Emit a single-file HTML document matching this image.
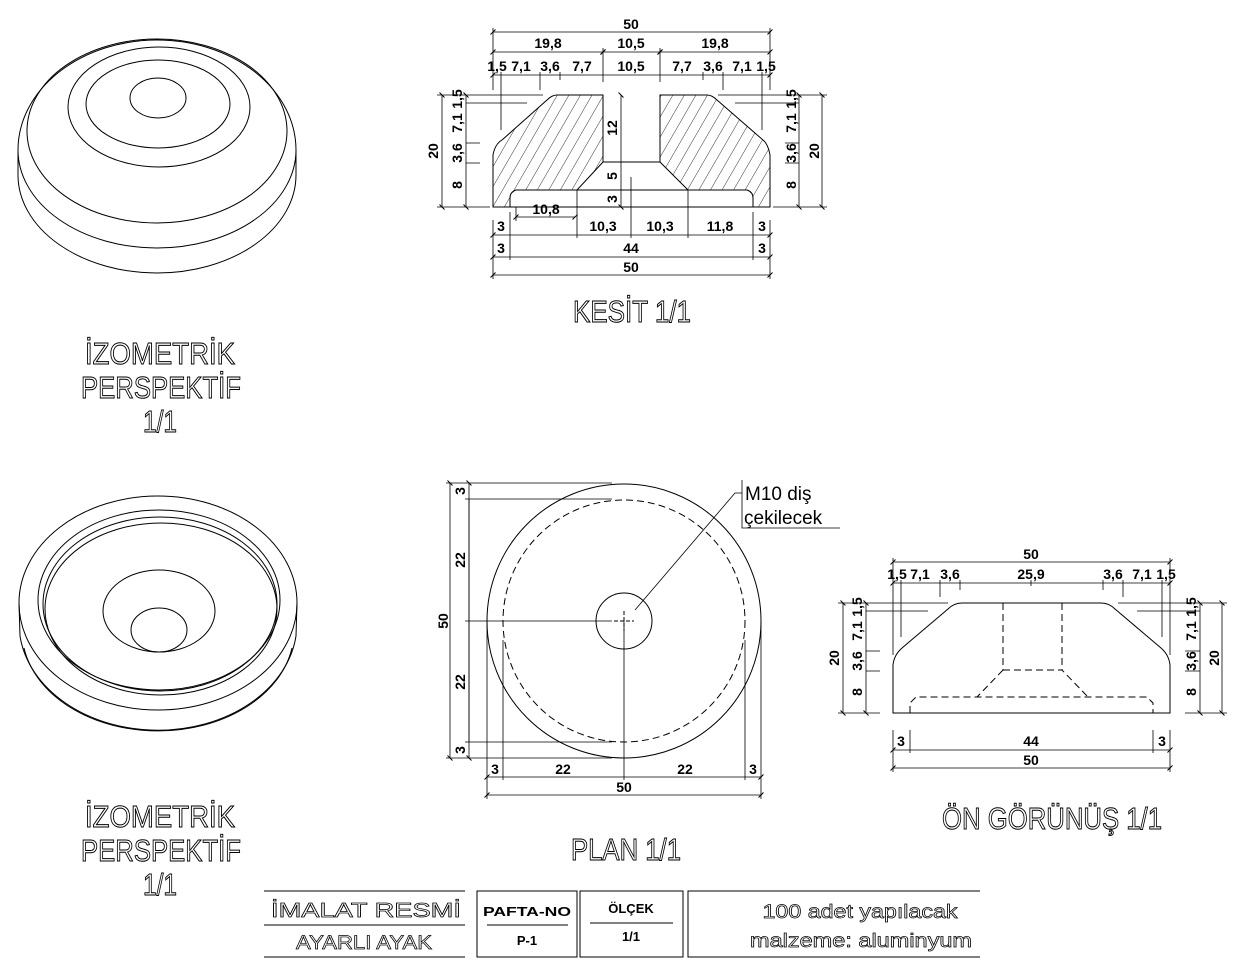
<!DOCTYPE html>
<html><head><meta charset="utf-8"><style>
html,body{margin:0;padding:0;background:#fff}
svg{display:block}
.d{font-family:"Liberation Sans Narrow","Liberation Sans",sans-serif;font-weight:bold;font-size:14px;fill:#000;text-anchor:middle}
.big{font-family:"Liberation Sans Narrow","Liberation Sans",sans-serif;font-size:31px;fill:#fff;stroke:#000;stroke-width:1;text-anchor:middle}
.tb{font-family:"Liberation Sans",sans-serif;fill:#fff;stroke:#000;stroke-width:0.7;text-anchor:middle}
.tn{font-family:"Liberation Sans",sans-serif;fill:#000;text-anchor:middle}
</style></head><body>
<svg width="1250" height="973" viewBox="0 0 1250 973" xmlns="http://www.w3.org/2000/svg">
<defs>
<marker id="t" viewBox="-4 -4 8 8" markerWidth="8" markerHeight="8" orient="auto" markerUnits="userSpaceOnUse"><path d="M-2.5,2.5 L2.5,-2.5" stroke="#000" stroke-width="1"/></marker>
<pattern id="h" width="10" height="10" patternUnits="userSpaceOnUse" patternTransform="rotate(30)"><line x1="0" y1="0" x2="0" y2="10" stroke="#000" stroke-width="0.8"/></pattern>
</defs>
<g fill="none" stroke="#000" stroke-width="1">
<!-- ISO 1 -->
<path d="M18,150 L18,175 A139,98 0 0 0 296,175 L296,150"/>
<path d="M18,150 A139,98 0 0 0 296,150"/>
<path d="M18,150 A139,110 0 0 1 296,150"/>
<ellipse cx="157" cy="131" rx="130" ry="92"/>
<ellipse cx="159" cy="107" rx="91" ry="60"/>
<ellipse cx="158" cy="104" rx="72" ry="44"/>
<ellipse cx="158" cy="98" rx="28" ry="20"/>
<!-- ISO 2 -->
<ellipse cx="158" cy="603" rx="139" ry="107"/>
<path d="M19,603 L20,636 A139,107 0 0 0 296,636 L297,603"/>
<path d="M24,648 A136,100 0 0 0 292,648"/>
<ellipse cx="159" cy="600" rx="121" ry="90"/>
<ellipse cx="160" cy="604" rx="117" ry="87"/>
<ellipse cx="161" cy="609" rx="116" ry="86"/>
<ellipse cx="159" cy="611" rx="56" ry="41"/>
<ellipse cx="159" cy="630" rx="28" ry="22"/>
</g>
<g class="big">
<text x="160" y="364" textLength="150" lengthAdjust="spacingAndGlyphs">İZOMETRİK</text>
<text x="161" y="398" textLength="160" lengthAdjust="spacingAndGlyphs">PERSPEKTİF</text>
<text x="160" y="432" textLength="34" lengthAdjust="spacingAndGlyphs">1/1</text>
<text x="160" y="827" textLength="150" lengthAdjust="spacingAndGlyphs">İZOMETRİK</text>
<text x="161" y="861" textLength="160" lengthAdjust="spacingAndGlyphs">PERSPEKTİF</text>
<text x="160" y="895" textLength="34" lengthAdjust="spacingAndGlyphs">1/1</text>
<text x="632" y="322" textLength="118" lengthAdjust="spacingAndGlyphs">KESİT 1/1</text>
<text x="626" y="860" textLength="110" lengthAdjust="spacingAndGlyphs">PLAN 1/1</text>
<text x="1052" y="829" textLength="220" lengthAdjust="spacingAndGlyphs">ÖN GÖRÜNÜŞ 1/1</text>
</g>

<!-- KESIT -->
<g stroke="#000" stroke-width="1">
<path fill="url(#h)" d="M493,207 L493,155 Q495,144 502,140 L547,100 Q552,95 557,95 L603,95 L603,162 L577,190 L516,190 Q510,192 510,198 L510,207 Z"/>
<path fill="url(#h)" d="M770,207 L770,155 Q768,144 763,140 L717,100 Q712,95 707,95 L660,95 L660,162 L688,190 L747,190 Q753,192 753,198 L753,207 Z"/>
<line x1="603" y1="162" x2="660" y2="162"/>
<line x1="577" y1="190" x2="688" y2="190"/>
<line x1="510" y1="207" x2="753" y2="207"/>
</g>
<g fill="none" stroke="#000" stroke-width="0.8">
<g marker-start="url(#t)" marker-end="url(#t)">
<line x1="493" y1="32" x2="770" y2="32"/>
<line x1="493" y1="52" x2="603" y2="52"/><line x1="603" y1="52" x2="660" y2="52"/><line x1="660" y1="52" x2="770" y2="52"/>
<line x1="493" y1="75" x2="770" y2="75"/>
<line x1="442" y1="95" x2="442" y2="207"/>
<line x1="466" y1="95" x2="466" y2="207"/>
<line x1="799" y1="95" x2="799" y2="207"/>
<line x1="822" y1="95" x2="822" y2="207"/>
<line x1="621" y1="95" x2="621" y2="207"/>
<line x1="516" y1="217" x2="575" y2="217"/>
<line x1="493" y1="235" x2="770" y2="235"/>
<line x1="493" y1="257" x2="770" y2="257"/>
<line x1="493" y1="275" x2="770" y2="275"/>
</g>
<path d="M493,28V90 M770,28V90 M603,48V82 M660,48V82 M501,72V130 M762,72V130 M540,72V90 M723,72V90 M560,72V80 M703,72V80
M437,95H543 M466,103H527 M466,143H480 M466,163H480 M437,207H490
M718,95H827 M735,103H799 M785,143H799 M785,163H799 M773,207H827
M616,162H625 M616,190H625 M631,177V238 M577,190V238 M688,190V238 M516,207V221
M493,220V279 M770,220V279 M510,212V260 M753,212V260"/>
</g>
<g class="d">
<text x="631" y="29">50</text>
<text x="548" y="48">19,8</text><text x="631" y="48">10,5</text><text x="715" y="48">19,8</text>
<text x="497" y="71">1,5</text><text x="521" y="71">7,1</text><text x="550" y="71">3,6</text><text x="582" y="71">7,7</text><text x="631" y="71">10,5</text><text x="682" y="71">7,7</text><text x="713" y="71">3,6</text><text x="742" y="71">7,1</text><text x="766" y="71">1,5</text>
<text x="546" y="214">10,8</text>
<text x="501" y="231">3</text><text x="603" y="231">10,3</text><text x="660" y="231">10,3</text><text x="720" y="231">11,8</text><text x="762" y="231">3</text>
<text x="501" y="253">3</text><text x="631" y="253">44</text><text x="762" y="253">3</text>
<text x="631" y="272">50</text>
<text transform="translate(438,151) rotate(-90)">20</text>
<text transform="translate(462,99) rotate(-90)">1,5</text>
<text transform="translate(462,123) rotate(-90)">7,1</text>
<text transform="translate(462,153) rotate(-90)">3,6</text>
<text transform="translate(462,185) rotate(-90)">8</text>
<text transform="translate(796,99) rotate(-90)">1,5</text>
<text transform="translate(796,123) rotate(-90)">7,1</text>
<text transform="translate(796,153) rotate(-90)">3,6</text>
<text transform="translate(796,185) rotate(-90)">8</text>
<text transform="translate(819,151) rotate(-90)">20</text>
<text transform="translate(617,128) rotate(-90)">12</text>
<text transform="translate(617,176) rotate(-90)">5</text>
<text transform="translate(617,199) rotate(-90)">3</text>
</g>

<!-- PLAN -->
<g fill="none" stroke="#000" stroke-width="1">
<circle cx="624" cy="621" r="137"/>
<circle cx="624" cy="621" r="121" stroke-dasharray="7 4"/>
<circle cx="624" cy="621" r="28"/>
<path d="M614,621H634 M624,611V631" stroke-dasharray="4 2"/>
<path d="M635,610 L735,493 H742 M742,480 V528 H840" stroke-width="0.8"/>
</g>
<g fill="none" stroke="#000" stroke-width="0.8">
<g marker-start="url(#t)" marker-end="url(#t)">
<line x1="450" y1="483" x2="450" y2="758"/>
<line x1="469" y1="483" x2="469" y2="758"/>
<line x1="487" y1="777" x2="761" y2="777"/>
<line x1="487" y1="795" x2="761" y2="795"/>
</g>
<path d="M446,483H612 M465,499H612 M465,621H612 M465,742H612 M446,758H612 M469,499V742
M487,621V799 M503,640V780 M624,621V780 M745,640V780 M761,621V799"/>
</g>
<g class="d">
<text transform="translate(465,491) rotate(-90)">3</text>
<text transform="translate(465,560) rotate(-90)">22</text>
<text transform="translate(448,621) rotate(-90)">50</text>
<text transform="translate(465,682) rotate(-90)">22</text>
<text transform="translate(465,750) rotate(-90)">3</text>
<text x="495" y="774">3</text><text x="563" y="774">22</text><text x="685" y="774">22</text><text x="753" y="774">3</text>
<text x="624" y="792">50</text>
</g>
<text class="tn" x="745" y="500" font-size="19" style="text-anchor:start">M10 diş</text>
<text class="tn" x="744" y="524" font-size="19" style="text-anchor:start">çekilecek</text>

<!-- ON GORUNUS -->
<g fill="none" stroke="#000" stroke-width="1">
<path d="M893,713 L893,665 Q894,655 902,648 L948,609 Q954,603 962,603 L1101,603 Q1109,603 1115,609 L1161,648 Q1169,655 1170,665 L1170,713 Z"/>
<path d="M1003,603V670 M1062,603V670 M1003,670H1062 L1088,697 M1003,670 L977,697 M910,713 V703 L916,697 H1147 L1153,703 V713" stroke-dasharray="7 4"/>
</g>
<g fill="none" stroke="#000" stroke-width="0.8">
<g marker-start="url(#t)" marker-end="url(#t)">
<line x1="893" y1="562" x2="1170" y2="562"/>
<line x1="893" y1="583" x2="1170" y2="583"/>
<line x1="843" y1="603" x2="843" y2="713"/>
<line x1="866" y1="603" x2="866" y2="713"/>
<line x1="1200" y1="603" x2="1200" y2="713"/>
<line x1="1222" y1="603" x2="1222" y2="713"/>
<line x1="893" y1="750" x2="1170" y2="750"/>
<line x1="893" y1="768" x2="1170" y2="768"/>
</g>
<path d="M893,558V655 M1170,558V655 M901,580V637 M1162,580V637 M940,580V597 M1123,580V597 M960,580V590 M1103,580V590 M1031,580V586
M838,603H948 M866,611H928 M866,651H880 M866,671H880 M838,713H880
M1118,603H1227 M1137,611H1200 M1185,651H1200 M1185,671H1200 M1185,713H1227
M893,730V772 M1170,730V772 M910,730V753 M1153,730V753"/>
</g>
<g class="d">
<text x="1031" y="559">50</text>
<text x="897" y="579">1,5</text><text x="920" y="579">7,1</text><text x="950" y="579">3,6</text><text x="1031" y="579">25,9</text><text x="1113" y="579">3,6</text><text x="1142" y="579">7,1</text><text x="1166" y="579">1,5</text>
<text transform="translate(839,658) rotate(-90)">20</text>
<text transform="translate(862,607) rotate(-90)">1,5</text>
<text transform="translate(862,631) rotate(-90)">7,1</text>
<text transform="translate(862,661) rotate(-90)">3,6</text>
<text transform="translate(862,692) rotate(-90)">8</text>
<text transform="translate(1196,607) rotate(-90)">1,5</text>
<text transform="translate(1196,631) rotate(-90)">7,1</text>
<text transform="translate(1196,661) rotate(-90)">3,6</text>
<text transform="translate(1196,692) rotate(-90)">8</text>
<text transform="translate(1219,658) rotate(-90)">20</text>
<text x="901" y="746">3</text><text x="1031" y="746">44</text><text x="1162" y="746">3</text>
<text x="1031" y="765">50</text>
</g>

<!-- TITLE BLOCK -->
<g fill="none" stroke="#000" stroke-width="1">
<path d="M264,891H465 M264,925H465 M264,957H465"/>
<path d="M477,891H577V957H477Z M487,925H568"/>
<path d="M580,891H683V957H580Z M590,923H673"/>
<path d="M980,891H688V957H980"/>
</g>
<text class="tb" x="366" y="917" font-size="20" textLength="190" lengthAdjust="spacingAndGlyphs">İMALAT RESMİ</text>
<text class="tb" x="364" y="949" font-size="19" textLength="136" lengthAdjust="spacingAndGlyphs">AYARLI AYAK</text>
<text class="tn" x="527" y="916" font-size="13" font-weight="bold" textLength="88" lengthAdjust="spacingAndGlyphs">PAFTA-NO</text>
<text class="tn" x="527" y="945" font-size="13" font-weight="bold">P-1</text>
<text class="tn" x="631" y="913" font-size="13" font-weight="bold">ÖLÇEK</text>
<text class="tn" x="631" y="941" font-size="13" font-weight="bold">1/1</text>
<text class="tb" x="860" y="918" font-size="19" textLength="195" lengthAdjust="spacingAndGlyphs">100 adet yapılacak</text>
<text class="tb" x="861" y="947" font-size="19" textLength="222" lengthAdjust="spacingAndGlyphs">malzeme: aluminyum</text>
</svg>
</body></html>
